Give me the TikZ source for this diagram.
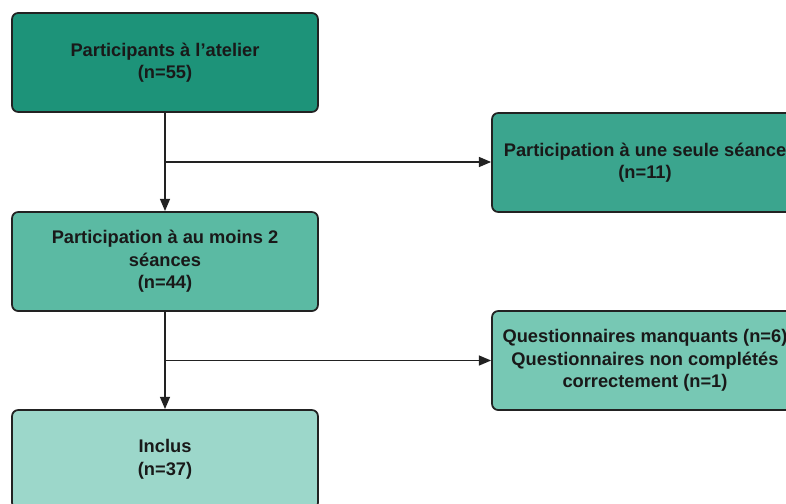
\documentclass[tikz,border=0pt]{standalone}
\usepackage{fontspec}
\setmainfont{Liberation Sans}
\usepackage{tikz}
\usetikzlibrary{calc, positioning, arrows.meta}

\definecolor{tealA}{HTML}{1D9379}
\definecolor{tealB}{HTML}{3BA58E}
\definecolor{tealC}{HTML}{5BBAA3}
\definecolor{tealD}{HTML}{77C8B4}
\definecolor{tealE}{HTML}{9CD7CA}
\definecolor{edge}{HTML}{222222}

\tikzset{
  flowbox/.style={draw=edge, line width=1pt, rectangle, rounded corners=3.5pt,
    minimum width=6.12cm, minimum height=1.98cm, align=center,
    font=\fontsize{10.4}{12.8}\selectfont\bfseries, text=black!90},
  link/.style={draw=edge, line width=1.1pt},
  linkarrow/.style={link, -{Triangle[length=7pt, width=5.6pt]}}
}

\begin{document}
\begin{tikzpicture}[x=0.02cm, y=-0.02cm]
          \clip (0, 0) rectangle (786, 503);
          \fill[white] (0, 0) rectangle (786, 503);

          \node[flowbox, fill=tealA] (atelier) at (165, 62.5) {Participants à l’atelier\\(n=55)};
          \node[flowbox, fill=tealB] (seule) at (645, 162.5) {Participation à une seule séance\\(n=11)};
          \node[flowbox, fill=tealC] (deux) at (165, 261.5) {Participation à au moins 2\\séances\\(n=44)};
          \node[flowbox, fill=tealD] (manq) at (645, 360.5) {Questionnaires manquants (n=6)\\Questionnaires non complétés\\correctement (n=1)};
          \node[flowbox, fill=tealE] (inclus) at (165, 459.5) {Inclus\\(n=37)};

          \coordinate (split1) at ($(atelier.south)!0.5!(deux.north)$);
          \coordinate (split2) at ($(deux.south)!0.5!(inclus.north)$);

          \draw[linkarrow] (atelier.south) -- (deux.north);
          \draw[linkarrow] (split1) -- (split1 -| seule.west);
          \draw[linkarrow] (deux.south) -- (inclus.north);
          \draw[linkarrow] (split2) -- (split2 -| manq.west);

      \end{tikzpicture}
\end{document}
